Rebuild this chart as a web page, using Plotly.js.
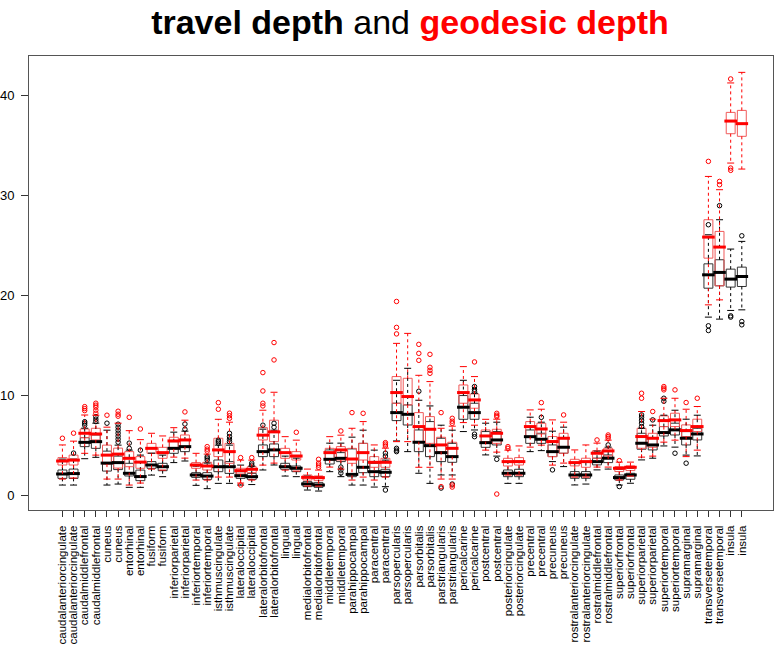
<!DOCTYPE html>
<html>
<head>
<meta charset="utf-8">
<script src="https://cdn.plot.ly/plotly-3.0.1.min.js"></script>
<style>html,body{margin:0;padding:0;background:#fff;}#chart{width:778px;height:647px;}</style>
</head>
<body>
<div id="chart"></div>
<script>
// Tick labels (one per box position, left to right)
const labels = [
 'caudalanteriorcingulate','caudalanteriorcingulate','caudalmiddlefrontal','caudalmiddlefrontal',
 'cuneus','cuneus','entorhinal','entorhinal','fusiform','fusiform',
 'inferiorparietal','inferiorparietal','inferiortemporal','inferiortemporal',
 'isthmuscingulate','isthmuscingulate','lateraloccipital','lateraloccipital',
 'lateralorbitofrontal','lateralorbitofrontal','lingual','lingual',
 'medialorbitofrontal','medialorbitofrontal','middletemporal','middletemporal',
 'parahippocampal','parahippocampal','paracentral','paracentral',
 'parsopercularis','parsopercularis','parsorbitalis','parsorbitalis',
 'parstriangularis','parstriangularis','pericalcarine','pericalcarine',
 'postcentral','postcentral','posteriorcingulate','posteriorcingulate',
 'precentral','precentral','precuneus','precuneus',
 'rostralanteriorcingulate','rostralanteriorcingulate','rostralmiddlefrontal','rostralmiddlefrontal',
 'superiorfrontal','superiorfrontal','superiorparietal','superiorparietal',
 'superiortemporal','superiortemporal','supramarginal','supramarginal',
 'transversetemporal','transversetemporal','insula','insula'
];

// travel depth (black)
const travelLo  = [1.0,1.0,3.64,3.78,1.0,1.1,0.77,0.77,2.0,1.84,3.25,3.41,0.97,0.64,1.17,1.17,1.0,1.05,2.51,3.01,1.9,1.84,0.5,0.4,2.34,1.84,1.0,1.0,0.8,0.84,5.42,4.35,2.18,1.17,2.01,2.01,6.36,6.52,4.02,3.9,1.17,1.17,4.35,4.45,3.35,2.85,1.01,1.1,2.52,2.6,1.0,1.18,3.52,3.69,4.92,4.8,4.0,3.92,17.83,17.63,18.5,18.56];
const travelQ1  = [1.67,1.67,4.85,4.68,2.4,2.55,1.91,1.44,2.68,2.44,4.18,4.35,1.77,1.57,2.34,2.17,1.67,1.57,3.85,3.85,2.58,2.34,0.84,0.77,3.11,3.35,1.84,2.24,1.84,1.84,7.46,7.02,4.35,3.85,3.35,3.28,7.59,7.59,4.78,5.02,1.84,1.84,5.18,5.18,3.85,4.19,1.68,1.68,3.02,3.25,1.51,1.58,4.59,4.52,5.92,6.02,5.02,5.52,20.73,20.97,20.84,20.9];
const travelMed = [2.11,2.15,5.28,5.35,3.2,3.25,2.18,1.85,3.01,2.84,4.68,4.85,2.01,1.9,2.84,2.84,1.94,1.84,4.35,4.52,2.84,2.68,1.11,1.0,3.58,3.68,2.07,2.78,2.34,2.28,8.26,8.09,5.29,4.95,4.25,3.85,8.8,8.26,5.25,5.52,2.18,2.18,5.85,5.59,4.35,4.79,2.01,2.01,3.35,3.69,1.75,2.01,5.19,5.02,6.26,6.53,5.69,6.12,22.07,22.31,21.64,21.9];
const travelQ3  = [2.51,2.6,5.75,6.02,4.4,3.9,3.18,2.5,3.35,3.18,5.35,5.52,2.24,2.24,3.51,3.35,2.34,2.17,5.02,5.12,3.18,2.91,1.34,1.24,4.52,4.25,4.62,5.18,3.18,2.58,9.2,9.03,6.52,7.36,5.69,5.18,9.97,9.2,6.36,6.36,2.51,2.58,6.52,6.19,5.02,5.69,2.35,2.35,3.69,4.02,2.01,2.18,6.19,5.69,6.86,7.2,6.36,6.69,23.17,23.58,22.64,22.84];
const travelHi  = [3.6,3.6,6.7,7.2,6.5,5.0,4.5,4.0,4.2,4.0,6.3,6.4,2.9,3.2,5.0,5.0,3.0,2.9,6.6,6.5,3.9,3.7,1.9,1.8,5.2,5.2,5.8,6.5,4.5,3.5,11.5,12.7,9.5,8.93,7.0,6.5,11.5,10.2,7.2,7.3,3.3,3.4,7.8,7.3,6.4,6.8,3.2,3.3,4.4,4.8,2.6,2.7,6.7,7.0,8.0,8.5,7.6,8.0,26.08,27.59,24.65,25.42];
const travelOut = [[],[4.2],[7.0,7.2,7.35],[7.36,7.6,7.86],[7.2],[5.3,5.6,5.9,6.2,6.5,6.8,7.1],[4.68,5.2],[4.5],[],[],[],[6.59,7.12],[],[3.5,3.7,3.85],[5.2,5.35,5.5],[5.35,5.6,5.85,6.19],[],[3.0,3.2],[7.0],[6.8,7.19],[],[],[],[],[],[2.2,2.5,2.8],[],[],[],[3.9,4.2,0.5],[4.35,4.5,4.68],[],[10.4],[],[0.7],[1.1],[],[10.4,10.6,10.87,5.85,6.1],[],[3.58],[],[],[],[7.79],[2.52],[],[],[],[],[5.02],[0.85],[],[6.86,7.2,7.5,7.8,8.03],[7.53],[9.4,9.7],[4.19],[3.19],[],[27.09,16.96,16.49],[29.0],[17.83,17.96],[25.98,17.06,17.39]];

// geodesic depth (red)
const geoLo  = [1.6,1.7,4.18,4.0,1.6,1.6,1.0,1.2,2.6,2.5,3.8,3.7,1.5,1.5,1.8,1.8,1.2,1.5,3.0,3.2,2.5,2.4,0.9,0.9,2.8,2.6,1.5,1.8,1.5,1.8,5.35,5.35,2.78,2.78,1.6,1.6,7.26,7.0,4.5,4.3,2.0,2.0,4.8,5.0,3.0,3.2,1.8,1.8,2.8,2.8,1.5,1.9,3.8,3.9,5.3,5.5,3.85,4.5,19.06,19.56,33.27,32.67];
const geoQ1  = [3.01,3.01,5.75,5.52,3.1,2.7,2.84,2.68,4.18,3.68,4.62,4.85,2.68,2.51,3.85,3.18,2.11,2.24,5.52,5.35,3.68,3.51,1.5,1.44,3.51,3.51,3.18,3.51,2.78,2.78,9.2,9.03,5.35,5.18,4.35,3.85,9.2,8.7,5.35,5.18,2.91,3.01,5.85,6.12,3.85,4.19,2.92,2.78,3.69,3.92,2.35,2.45,4.69,4.79,6.86,6.86,5.86,6.36,23.74,20.97,36.21,35.95];
const geoMed = [3.41,3.5,6.19,6.12,4.0,4.1,3.68,3.3,4.68,4.25,5.42,5.52,3.01,2.91,4.52,4.35,2.44,2.58,6.0,6.33,4.25,3.91,1.77,1.74,4.25,4.52,3.61,4.25,3.28,3.28,10.27,9.87,6.86,6.59,5.02,4.68,10.27,9.53,5.92,6.19,3.35,3.35,6.86,6.62,5.36,5.69,3.25,3.35,4.19,4.42,2.68,2.78,5.86,5.69,7.46,7.53,6.46,6.86,25.85,24.85,37.48,37.22];
const geoQ3  = [3.75,4.0,6.62,6.69,5.0,4.7,4.35,3.85,5.18,4.78,5.79,6.02,3.25,3.28,5.69,5.18,2.68,2.84,6.75,7.5,4.68,4.35,2.01,1.91,4.68,4.85,4.68,5.18,3.85,3.68,11.87,11.7,8.26,7.86,5.79,5.29,11.03,10.13,6.52,6.59,3.68,3.75,7.36,7.19,5.86,6.19,3.58,3.69,4.45,4.69,2.85,2.92,6.69,6.19,7.93,8.2,7.03,7.6,27.59,26.42,38.35,38.55];
const geoHi  = [5.02,5.4,8.02,8.0,6.8,7.2,6.45,5.55,6.19,5.92,6.75,7.5,4.18,4.1,7.59,7.3,3.5,3.5,8.5,10.3,5.85,5.5,2.6,2.5,5.85,6.0,6.69,7.36,5.02,4.7,15.2,16.2,12.0,11.37,6.69,6.9,12.87,11.87,7.59,7.6,4.5,4.92,8.53,8.6,7.53,7.3,4.52,5.02,5.2,5.5,3.3,3.3,8.37,7.6,9.7,9.7,8.6,8.87,31.93,30.6,41.3,42.36];
const geoOut = [[5.69],[6.2],[8.46,8.66,8.86],[8.2,8.5,8.8,9.0,9.2],[8.0],[7.9,8.1,8.4],[7.79],[6.62],[],[],[],[8.33],[],[4.4,4.6,4.85],[8.6,9.26],[7.69,7.95,8.2],[3.75,1.0],[3.75],[8.93,9.2,10.43,12.27],[13.54,15.28],[],[6.29],[],[2.78,3.0,3.2,3.58],[],[6.42],[8.26],[8.19],[],[4.92,5.1,5.25],[16.15,16.8,19.4],[],[13.5,14.2,15.1],[12.2,12.5,12.8,14.1],[8.26,0.84],[7.19,7.4,7.69,1.0,0.8],[],[13.34],[],[7.86,8.0,8.19,0.1],[4.68,4.85],[],[],[9.26],[],[8.03],[],[],[5.52],[5.69,5.86,6.02],[3.45],[],[9.7,10.2],[8.37],[10.54,10.7,10.87],[10.54],[9.27],[9.7],[33.44],[31.1,31.43],[41.7,32.54,32.77],[]];

const pos = labels.map((_, i) => i + 1);

function series(lo, q1, med, q3, hi, out, boxColor, mainColor) {
  const wx = [], wy = [];
  const sx = [], sy = [];
  const ox = [], oy = [];
  pos.forEach((p, i) => {
    wx.push(p, p, null, p, p, null);
    wy.push(q3[i], hi[i], null, q1[i], lo[i], null);
    sx.push(p, p); sy.push(hi[i], lo[i]);
    out[i].forEach(v => { ox.push(p); oy.push(v); });
  });
  return [
    {type:'scatter', mode:'lines', x:wx, y:wy, hoverinfo:'skip',
     line:{color:mainColor, width:1, dash:'3px,3px'}},
    {type:'box', orientation:'v', x:pos, q1:q1, median:med, q3:q3,
     lowerfence:q1, upperfence:q3, width:0.8, whiskerwidth:0,
     line:{color:boxColor, width:1}, fillcolor:'rgba(0,0,0,0)', hoverinfo:'skip'},
    {type:'scatter', mode:'markers', x:sx, y:sy, hoverinfo:'skip',
     marker:{symbol:'line-ew', size:5, line:{color:mainColor, width:1}}},
    {type:'scatter', mode:'markers', x:pos, y:med, hoverinfo:'skip',
     marker:{symbol:'line-ew', size:9, line:{color:mainColor, width:3}}},
    {type:'scatter', mode:'markers', x:ox, y:oy, hoverinfo:'skip',
     marker:{symbol:'circle-open', size:4.5, color:mainColor, line:{color:mainColor, width:1}}}
  ];
}

const data = [].concat(
  series(travelLo, travelQ1, travelMed, travelQ3, travelHi, travelOut, '#333333', '#000000'),
  series(geoLo, geoQ1, geoMed, geoQ3, geoHi, geoOut, '#f05a5a', '#ff0000')
);

const layout = {
  width: 778, height: 647,
  margin: {l: 29, r: 5, t: 56, b: 137},
  paper_bgcolor: '#ffffff', plot_bgcolor: '#ffffff',
  showlegend: false,
  boxmode: 'overlay',
  font: {family: '"Liberation Sans", Arial, sans-serif', color: '#000'},
  title: {
    text: '<b>travel depth</b> and <b><span style="color:#ff0000">geodesic depth</span></b>',
    font: {family: '"Liberation Sans", Arial, sans-serif', size: 34, color: '#000'},
    xref: 'container', x: 0.527, xanchor: 'center',
    yref: 'container', y: 0.984, yanchor: 'top'
  },
  xaxis: {
    range: [-2, 64.8], tickvals: pos, ticktext: labels, tickangle: -90,
    ticks: 'outside', ticklen: 6, tickcolor: '#333', tickwidth: 1,
    ticklabelstandoff: 4,
    showline: true, linecolor: '#555', linewidth: 1, mirror: true,
    showgrid: false, zeroline: false,
    tickfont: {family: '"Liberation Sans", Arial, sans-serif', size: 11.5, color: '#000'}
  },
  yaxis: {
    range: [-1.5, 44.0], tickvals: [0, 10, 20, 30, 40],
    ticks: 'outside', ticklen: 7, tickcolor: '#333', tickwidth: 1,
    ticklabelstandoff: 4,
    showline: true, linecolor: '#555', linewidth: 1, mirror: true,
    showgrid: false, zeroline: false,
    tickfont: {family: '"Liberation Sans", Arial, sans-serif', size: 13, color: '#000'}
  }
};

Plotly.newPlot('chart', data, layout, {displayModeBar: false, staticPlot: true});
</script>
</body>
</html>
